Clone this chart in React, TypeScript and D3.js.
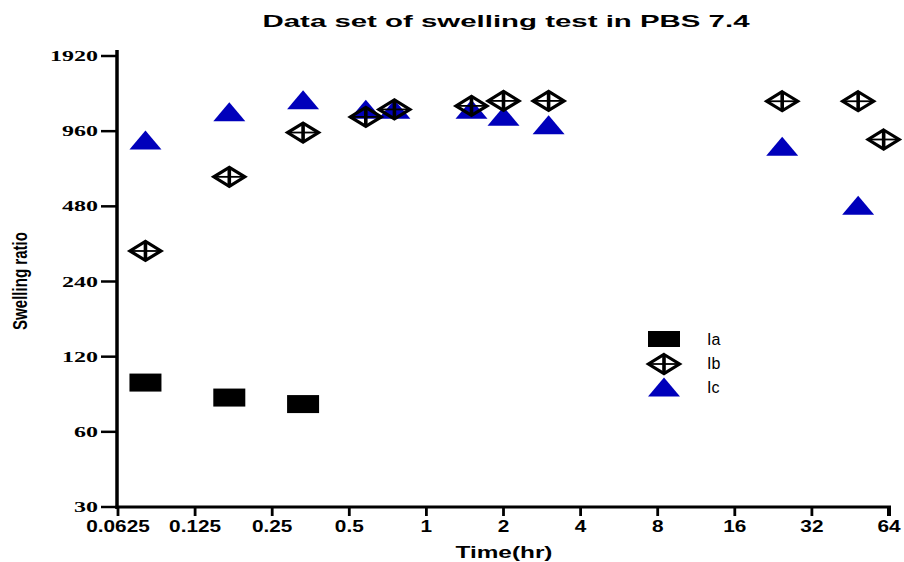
import React from "react";
import * as d3 from "d3";

const W = 904;
const H = 562;

const title = "Data set of swelling test in PBS 7.4";
const xTitle = "Time(hr)";
const yTitle = "Swelling ratio";

const xTicks = [0.0625, 0.125, 0.25, 0.5, 1, 2, 4, 8, 16, 32, 64];
const xTickLabels = ["0.0625", "0.125", "0.25", "0.5", "1", "2", "4", "8", "16", "32", "64"];
const yTicks = [30, 60, 120, 240, 480, 960, 1920];

const timesA = [0.08, 0.17, 0.33];
const valuesA = [94.5, 82.3, 77.5];

const timesB = [0.08, 0.17, 0.33, 0.58, 0.75, 1.5, 2, 3, 24.5, 48.5, 61];
const valuesB = [318, 630, 948, 1095, 1173, 1212, 1269, 1269, 1265, 1265, 889];

const timesC = [0.08, 0.17, 0.33, 0.58, 0.75, 1.5, 2, 3, 24.5, 48.5];
const valuesC = [884, 1149, 1283, 1176, 1176, 1176, 1102, 1019, 836, 485];

const seriesNames = ["Ia", "Ib", "Ic"];
const BLUE = "#0000BB";

const x = d3.scaleLog().base(2).domain([0.0625, 64]).range([118, 889]);
const y = d3.scaleLog().base(2).domain([30, 1920]).range([507, 56]);

const MW = 32;
const MH = 19;

function Square({ cx, cy }: { cx: number; cy: number }) {
  return <rect x={cx - MW / 2} y={cy - 9} width={MW} height={18} fill="#000" />;
}

function Diamond({ cx, cy }: { cx: number; cy: number }) {
  const hw = 15.5;
  const hh = 9.5;
  return (
    <g transform={`translate(${cx},${cy})`}>
      <path d={`M0,${-hh} L${hw},0 L0,${hh} L${-hw},0 Z`} fill="none" stroke="#000" strokeWidth={3.2} strokeLinejoin="miter" />
      <line x1={0} y1={-hh} x2={0} y2={hh} stroke="#000" strokeWidth={3.6} />
      <line x1={-hw} y1={0} x2={hw} y2={0} stroke="#000" strokeWidth={1.8} />
    </g>
  );
}

function Triangle({ cx, cy }: { cx: number; cy: number }) {
  const hw = MW / 2;
  const hh = MH / 2;
  return <path d={`M${cx},${cy - hh} L${cx + hw},${cy + hh} L${cx - hw},${cy + hh} Z`} fill={BLUE} />;
}

export default function App() {
  const sans = "'Liberation Sans', Arial, sans-serif";
  const serif = "'Liberation Serif', 'Times New Roman', serif";
  return (
    <svg
      width={W}
      height={H}
      viewBox={`0 0 ${W} ${H}`}
      style={{ position: "absolute", left: 0, top: 0, background: "#fff" }}
    >
      <rect x={0} y={0} width={W} height={H} fill="#fff" />
      {/* Title */}
      <text
        x={506}
        y={27}
        textAnchor="middle"
        fontFamily={sans}
        fontWeight="bold"
        fontSize={17}
        textLength={487}
        lengthAdjust="spacingAndGlyphs"
      >
        {title}
      </text>

      {/* Y axis */}
      <line x1={117} y1={50} x2={117} y2={509} stroke="#000" strokeWidth={3.5} />
      {yTicks.map((t) => (
        <g key={t}>
          <line x1={101} y1={y(t)} x2={117} y2={y(t)} stroke="#000" strokeWidth={2.5} />
          <text
            transform={`translate(98,${y(t) + 5}) scale(1.6,1)`}
            textAnchor="end"
            fontFamily={serif}
            fontWeight="bold"
            fontSize={15}
          >
            {t}
          </text>
        </g>
      ))}

      {/* X axis */}
      <line x1={115.5} y1={507} x2={891} y2={507} stroke="#000" strokeWidth={3} />
      {xTicks.map((t, i) => (
        <g key={t}>
          <line x1={x(t)} y1={507} x2={x(t)} y2={516} stroke="#000" strokeWidth={i === xTicks.length - 1 ? 4 : 2.8} />
          <text
            transform={`translate(${x(t)},532) scale(1.3,1)`}
            textAnchor="middle"
            fontFamily={sans}
            fontWeight="bold"
            fontSize={16}
          >
            {xTickLabels[i]}
          </text>
        </g>
      ))}

      {/* Axis titles */}
      <text
        x={504}
        y={558}
        textAnchor="middle"
        fontFamily={sans}
        fontWeight="bold"
        fontSize={17}
        textLength={97}
        lengthAdjust="spacingAndGlyphs"
      >
        {xTitle}
      </text>
      <text
        transform="translate(27,281) rotate(-90)"
        textAnchor="middle"
        fontFamily={sans}
        fontWeight="bold"
        fontSize={20}
        textLength={98}
        lengthAdjust="spacingAndGlyphs"
      >
        {yTitle}
      </text>

      {/* Data */}
      {timesA.map((t, i) => (
        <Square key={`a${i}`} cx={x(t)} cy={y(valuesA[i])} />
      ))}
      {timesC.map((t, i) => (
        <Triangle key={`c${i}`} cx={x(t)} cy={y(valuesC[i])} />
      ))}
      {timesB.map((t, i) => (
        <Diamond key={`b${i}`} cx={x(t)} cy={y(valuesB[i])} />
      ))}

      {/* Legend */}
      <rect x={648} y={331} width={32} height={16} fill="#000" />
      <Diamond cx={664} cy={364} />
      <Triangle cx={664} cy={387} />
      {seriesNames.map((n, i) => (
        <text key={n} x={707} y={[345, 369, 393][i]} fontFamily={sans} fontSize={16}>
          {n}
        </text>
      ))}
    </svg>
  );
}
